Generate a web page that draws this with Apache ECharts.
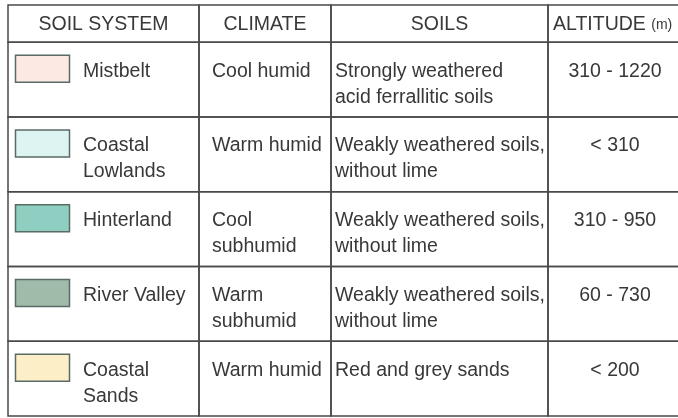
<!DOCTYPE html>
<html>
<head>
<meta charset="utf-8">
<script src="https://cdn.jsdelivr.net/npm/echarts@6/dist/echarts.min.js"></script>
<style>
  html, body { margin: 0; padding: 0; background: #fff; }
  #table { width: 678px; height: 418px; }
</style>
</head>
<body>
<div id="table"></div>
<script>
// table content
var headers = ['SOIL SYSTEM', 'CLIMATE', 'SOILS', 'ALTITUDE'];
var altitudeUnit = '(m)';
var soilSystems = ['Mistbelt', 'Coastal\nLowlands', 'Hinterland', 'River Valley', 'Coastal\nSands'];
var climates = ['Cool humid', 'Warm humid', 'Cool\nsubhumid', 'Warm\nsubhumid', 'Warm humid'];
var soils = [
  'Strongly weathered\nacid ferrallitic soils',
  'Weakly weathered soils,\nwithout lime',
  'Weakly weathered soils,\nwithout lime',
  'Weakly weathered soils,\nwithout lime',
  'Red and grey sands'
];
var altitudes = ['310 - 1220', '< 310', '310 - 950', '60 - 730', '< 200'];

// layout / style
var colEdges = [0, 191, 323, 540, 680];
var swatchColors = ['#fce9e3', '#ddf4f3', '#8fcfc2', '#a0bba9', '#fcefc8'];
var lineColor = '#4a4a4a';
var textColor = '#383838';
var font = '19.5px "Liberation Sans", Arial, sans-serif';

var chart = echarts.init(document.getElementById('table'));

function cellRect(api, c, y0, y1) {
  var p0 = api.coord([colEdges[c], y0]);
  var p1 = api.coord([colEdges[c + 1], y1]);
  return { x: p0[0], y: p0[1], width: p1[0] - p0[0], height: p1[1] - p0[1] };
}

function border(r) {
  return {
    type: 'rect',
    shape: r,
    style: { fill: 'transparent', stroke: lineColor, lineWidth: 1.5 }
  };
}

function renderHeader(params, api) {
  var children = [];
  for (var c = 0; c < 4; c++) {
    var r = cellRect(api, c, 0, 0.5);
    children.push(border(r));
    var txt = c === 3
      ? { text: '{a|' + headers[c] + '} {b|' + altitudeUnit + '}', x: r.x + 5, align: 'left',
          rich: { a: { font: font, fill: textColor }, b: { font: '14px "Liberation Sans", Arial, sans-serif', fill: textColor } } }
      : { text: headers[c], x: r.x + r.width / 2, align: 'center' };
    txt.y = r.y + r.height / 2 + 1;
    txt.verticalAlign = 'middle';
    txt.font = font;
    txt.fill = textColor;
    children.push({ type: 'text', style: txt });
  }
  return { type: 'group', children: children };
}

function renderRow(params, api) {
  var i = api.value(0);
  var y0 = i + 0.5, y1 = i + 1.5;
  var children = [];
  var texts = [soilSystems[i], climates[i], soils[i], altitudes[i]];
  for (var c = 0; c < 4; c++) {
    var r = cellRect(api, c, y0, y1);
    children.push(border(r));
    var tx, align = 'left';
    if (c === 0) tx = r.x + 75;
    else if (c === 1) tx = r.x + 13;
    else if (c === 2) tx = r.x + 4;
    else { tx = r.x + 67; align = 'center'; }
    children.push({
      type: 'text',
      style: {
        text: texts[c], x: tx, y: r.y + 16, align: align, verticalAlign: 'top',
        lineHeight: 26, font: font, fill: textColor
      }
    });
    if (c === 0) {
      children.push({
        type: 'rect',
        shape: { x: r.x + 7.5, y: r.y + 13, width: 54, height: 27 },
        style: { fill: swatchColors[i], stroke: '#5a6a64', lineWidth: 1.5 }
      });
    }
  }
  return { type: 'group', children: children };
}

chart.setOption({
  animation: false,
  grid: { left: 8, top: 5, width: 680, height: 411, outerBoundsMode: 'none' },
  xAxis: { type: 'value', min: 0, max: 680, show: false },
  yAxis: { type: 'value', min: 0, max: 5.5, inverse: true, show: false },
  series: [
    { type: 'custom', renderItem: renderHeader, data: [[0]], silent: true },
    { type: 'custom', renderItem: renderRow, data: soilSystems.map(function (s, i) { return [i]; }), silent: true }
  ]
});
</script>
</body>
</html>
